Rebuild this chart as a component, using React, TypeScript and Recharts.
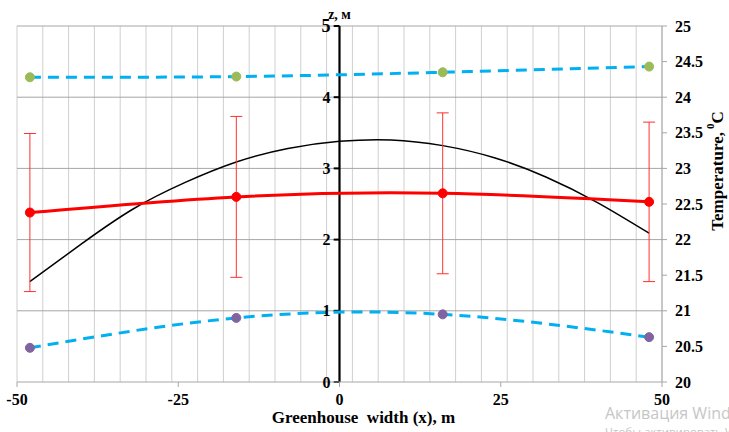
import React from 'react';
import {
  ComposedChart,
  Line,
  XAxis,
  YAxis,
  ReferenceLine,
  ReferenceDot,
  ErrorBar,
  Label,
} from 'recharts';

// ---- data ----
const xTicks = [-50, -25, 0, 25, 50];
const zTicks = [0, 1, 2, 3, 4, 5];
const tTicks = [20, 20.5, 21, 21.5, 22, 22.5, 23, 23.5, 24, 24.5, 25];
const gridX = [-50, -46, -42, -38, -34, -30, -26, -22, -18, -14, -10, -6, -2, 2, 6, 10, 14, 18, 22, 26, 30, 34, 38, 42, 46, 50];
const gridZ = [1, 2, 3, 4, 5];

// greenhouse roof profile (left axis, z, m)
const profileX = [-48, -40, -32, -24, -16, -8, 0, 8, 16, 24, 32, 40, 48];
const profileZ = [1.41, 1.94, 2.43, 2.8, 3.09, 3.28, 3.38, 3.4, 3.32, 3.15, 2.88, 2.52, 2.09];

// measurement positions
const sampleX = [-48, -16, 16, 48];
// mean temperature with error (right axis)
const tempMean = [22.38, 22.6, 22.65, 22.53];
const tempErr = [1.11, 1.13, 1.13, 1.12];
// upper and lower temperatures
const tempUpper = [24.28, 24.29, 24.35, 24.43];
const tempLower = [20.48, 20.9, 20.95, 20.63];

const profileData = profileX.map((x, i) => ({ x, z: profileZ[i] }));
const meanData = sampleX.map((x, i) => ({ x, t: tempMean[i], err: tempErr[i] }));
const upperData = sampleX.map((x, i) => ({ x, t: tempUpper[i] }));
const lowerData = sampleX.map((x, i) => ({ x, t: tempLower[i] }));

const SERIF = '"Liberation Serif", "Times New Roman", serif';
const tickStyle = { fontFamily: SERIF, fontWeight: 'bold' as const, fontSize: 16, fill: '#000' };

const XTitle = (props: any) => {
  const vb = props.viewBox || {};
  const cx = vb.x + vb.width / 2 + 24;
  const by = vb.y + 41;
  return (
    <g>
      <text
        x={cx}
        y={by}
        textAnchor="middle"
        fontFamily={SERIF}
        fontWeight="bold"
        fontSize={17}
        fill="#000"
        style={{ whiteSpace: 'pre' }}
      >
        {'Greenhouse  width (x), m'}
      </text>
      <text x={vb.x + vb.width - 57} y={vb.y + 37} fontFamily='"Open Sans", "Noto Sans", sans-serif' fontSize={16} fill="#c6c6c6">
        Активация Windows
      </text>
      <text x={vb.x + vb.width - 57} y={vb.y + 54} fontFamily='"Open Sans", "Noto Sans", sans-serif' fontSize={11.5} fill="#c6c6c6">
        Чтобы активировать Windows, перейдите в раздел «Параметры».
      </text>
    </g>
  );
};

const TTitle = (props: any) => {
  const vb = props.viewBox || {};
  const cx = vb.x + 55;
  const cy = vb.y + vb.height / 2 - 33;
  return (
    <text
      x={cx}
      y={cy}
      transform={`rotate(-90, ${cx}, ${cy})`}
      textAnchor="middle"
      dominantBaseline="central"
      fontFamily={SERIF}
      fontWeight="bold"
      fontSize={17}
      fill="#000"
    >
      Temperature,
      <tspan dx={3} dy={-7} fontSize={11}>0</tspan>
      <tspan dy={7}>C</tspan>
    </text>
  );
};

export default function App() {
  return (
    <div style={{ position: 'absolute', left: 0, top: 0, width: 729, height: 432, background: '#fff' }}>
      <ComposedChart width={729} height={432} margin={{ top: 26, right: 0, bottom: 0, left: 17 }}>
        <XAxis
          type="number"
          dataKey="x"
          domain={[-50, 50]}
          ticks={xTicks}
          allowDataOverflow
          height={50}
          axisLine={{ stroke: '#a6a6a6' }}
          tickLine={{ stroke: '#a6a6a6' }}
          tickSize={5}
          tickMargin={7}
          tick={tickStyle}
          label={<Label content={XTitle} />}
        />
        <YAxis yAxisId="z" hide type="number" domain={[0, 5]} allowDataOverflow />
        <YAxis
          yAxisId="t"
          orientation="right"
          type="number"
          domain={[20, 25]}
          ticks={tTicks}
          allowDataOverflow
          width={67}
          axisLine={{ stroke: '#a6a6a6' }}
          tickLine={{ stroke: '#a6a6a6' }}
          tickSize={5}
          tickMargin={8}
          tick={{ ...tickStyle, textAnchor: 'start' }}
          label={<Label content={TTitle} />}
        />

        {gridX.map((v) => (
          <ReferenceLine key={'gx' + v} x={v} yAxisId="z" stroke="#cfcfcf" strokeWidth={1} />
        ))}
        {gridZ.map((v) => (
          <ReferenceLine key={'gz' + v} y={v} yAxisId="z" stroke="#a6a6a6" strokeWidth={1} />
        ))}

        {/* z axis drawn at x = 0 */}
        <ReferenceLine x={0} yAxisId="z" stroke="#000" strokeWidth={2.2} />
        {zTicks.map((v) => (
          <ReferenceLine
            key={'zt' + v}
            yAxisId="z"
            segment={[{ x: -0.9, y: v }, { x: 0, y: v }]}
            stroke="#000"
            strokeWidth={2}
          />
        ))}
        {zTicks.map((v) => (
          <ReferenceDot
            key={'zl' + v}
            x={0}
            y={v}
            yAxisId="z"
            r={0}
            fill="none"
            stroke="none"
            label={
              <Label
                value={String(v)}
                position="left"
                offset={9}
                fill="#000"
                fontFamily={SERIF}
                fontWeight="bold"
                fontSize={v === 5 ? 18 : 16}
              />
            }
          />
        ))}
        <ReferenceDot
          x={0}
          y={5}
          yAxisId="z"
          r={0}
          fill="none"
          stroke="none"
          label={
            <Label value="z, м" position="top" offset={7} fill="#000" fontFamily={SERIF} fontWeight="bold" fontSize={14} />
          }
        />

        <Line
          data={profileData}
          dataKey="z"
          yAxisId="z"
          type="natural"
          stroke="#000"
          strokeWidth={1.5}
          dot={false}
          isAnimationActive={false}
        />
        <Line
          data={upperData}
          dataKey="t"
          yAxisId="t"
          type="natural"
          stroke="#00b0f0"
          strokeWidth={3}
          strokeDasharray="11 7"
          dot={{ r: 4.5, fill: '#9bbb59', stroke: '#9bbb59', strokeWidth: 1, strokeDasharray: '' }}
          isAnimationActive={false}
        />
        <Line
          data={lowerData}
          dataKey="t"
          yAxisId="t"
          type="natural"
          stroke="#00b0f0"
          strokeWidth={3}
          strokeDasharray="11 7"
          dot={{ r: 4.5, fill: '#8064a2', stroke: '#8064a2', strokeWidth: 1, strokeDasharray: '' }}
          isAnimationActive={false}
        />
        <Line
          data={meanData}
          dataKey="t"
          yAxisId="t"
          type="natural"
          stroke="#ff0000"
          strokeWidth={3}
          dot={{ r: 4.5, fill: '#ff0000', stroke: '#ff0000', strokeWidth: 1 }}
          isAnimationActive={false}
        >
          <ErrorBar dataKey="err" direction="y" width={6} stroke="#ff3030" strokeWidth={1} isAnimationActive={false} />
        </Line>
      </ComposedChart>
    </div>
  );
}
